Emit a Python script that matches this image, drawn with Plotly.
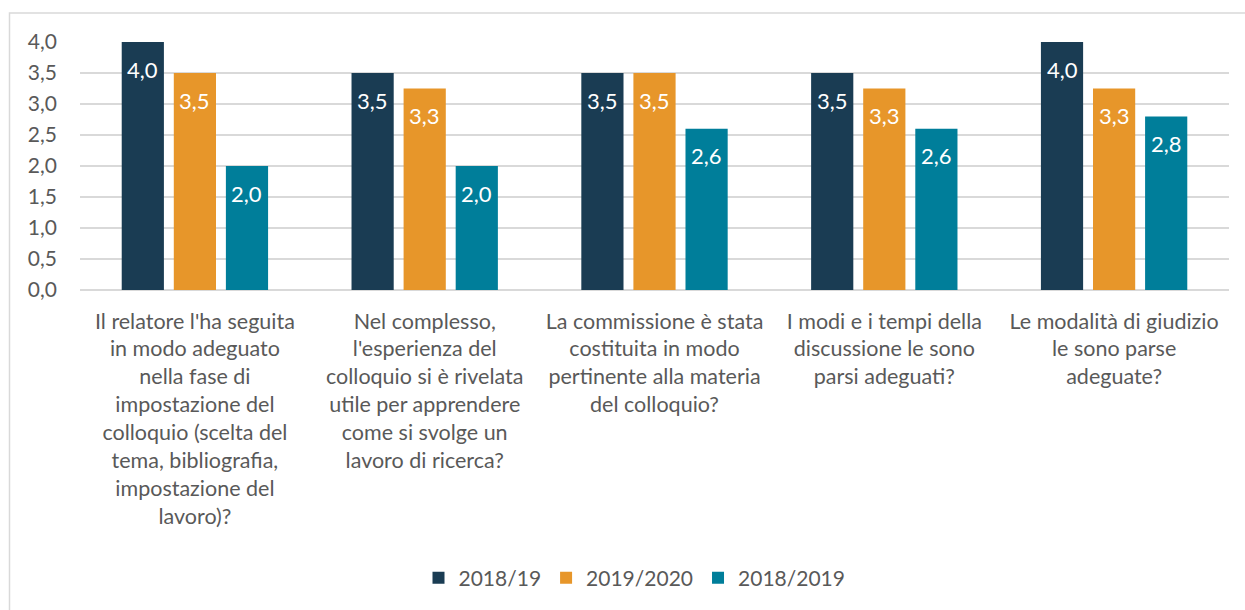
from decimal import Decimal, ROUND_HALF_UP
import plotly.graph_objects as go

# Survey questions (category axis), wrapped over several lines
categories = [
    "Il relatore l'ha seguita<br>in modo adeguato<br>nella fase di<br>impostazione del<br>colloquio (scelta del<br>tema, bibliografia,<br>impostazione del<br>lavoro)?",
    "Nel complesso,<br>l'esperienza del<br>colloquio si è rivelata<br>utile per apprendere<br>come si svolge un<br>lavoro di ricerca?",
    "La commissione è stata<br>costituita in modo<br>pertinente alla materia<br>del colloquio?",
    "I modi e i tempi della<br>discussione le sono<br>parsi adeguati?",
    "Le modalità di giudizio<br>le sono parse<br>adeguate?",
]

series_names = ["2018/19", "2019/2020", "2018/2019"]
values_2018_19 = [4.0, 3.5, 3.5, 3.5, 4.0]
values_2019_2020 = [3.5, 3.25, 3.5, 3.25, 3.25]
values_2018_2019 = [2.0, 2.0, 2.6, 2.6, 2.8]

y_ticks = [0, 0.5, 1.0, 1.5, 2.0, 2.5, 3.0, 3.5, 4.0]

colors = ["#1A3C53", "#E7962A", "#007E9A"]
FONT = "Lato, 'Open Sans', sans-serif"
GREY = "#595959"


def fmt_it(v):
    """One decimal, half-up rounding, Italian decimal comma."""
    d = Decimal(str(v)).quantize(Decimal("0.1"), rounding=ROUND_HALF_UP)
    return str(d).replace(".", ",")


W, H = 1245, 610
ml, mr, mt, mb = 80, 16, 42, 320
pw, ph = W - ml - mr, H - mt - mb

BARGAP, GROUPGAP = 0.32, 0.19
n_series = len(series_names)
slot_px = pw / len(categories) * (1 - BARGAP) / n_series

fig = go.Figure()
all_values = [values_2018_19, values_2019_2020, values_2018_2019]
for i, (name, vals, col) in enumerate(zip(series_names, all_values, colors)):
    fig.add_trace(go.Bar(
        x=categories, y=vals, name=name,
        marker=dict(color=col, line=dict(width=0)),
        textposition="none",
    ))
    # value labels near the top of each bar
    for cat, v in zip(categories, vals):
        fig.add_annotation(
            x=cat, y=v, text=fmt_it(v), showarrow=False,
            xshift=(i - (n_series - 1) / 2) * slot_px, yshift=-27,
            font=dict(family=FONT, size=22, color="white"),
        )

fig.update_layout(
    width=W, height=H,
    margin=dict(l=ml, r=mr, t=mt, b=mb),
    paper_bgcolor="white", plot_bgcolor="white",
    barmode="group", bargap=BARGAP, bargroupgap=GROUPGAP,
    separators=",.",
    font=dict(family=FONT, size=21, color=GREY),
    showlegend=True,
    legend=dict(orientation="h", x=0.5 - 20 / pw, xanchor="center",
                y=-(578 - mt - ph) / ph, yanchor="middle",
                font=dict(family=FONT, size=21, color=GREY),
                itemwidth=30, traceorder="normal"),
)

fig.update_xaxes(
    showgrid=False, showline=False, ticks="",
    tickfont=dict(family=FONT, size=21.5, color=GREY),
    ticklabelstandoff=16,
)
fig.update_yaxes(
    range=[0, 4], tickvals=y_ticks, tickformat=".1f",
    showgrid=True, gridcolor="#D9D9D9", gridwidth=1.5,
    zeroline=True, zerolinecolor="#D9D9D9", zerolinewidth=1.5,
    showline=False, ticks="",
    tickfont=dict(family=FONT, size=21, color=GREY),
    ticklabelstandoff=22,
)

# Chart frame (light grey border)
fig.add_shape(
    type="rect", xref="paper", yref="paper", layer="below",
    x0=(9.5 - ml) / pw, x1=(W + 5 - ml) / pw,
    y0=-(H + 5 - mt - ph) / ph, y1=1 + (mt - 13) / ph,
    line=dict(color="#D9D9D9", width=1.5), fillcolor="rgba(0,0,0,0)",
)

fig.write_html("out.html")
